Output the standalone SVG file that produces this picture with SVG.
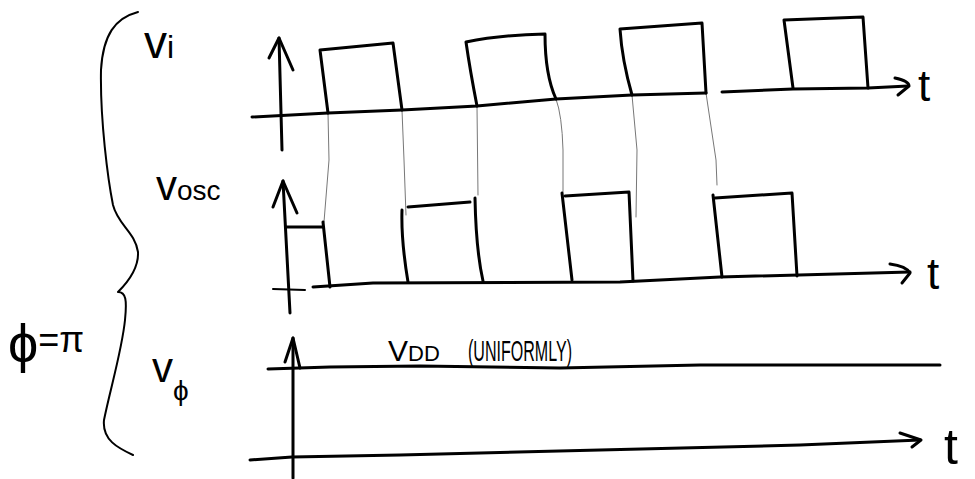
<svg xmlns="http://www.w3.org/2000/svg" width="975" height="479" viewBox="0 0 975 479">
<style>
.ink{fill:none;stroke:#000;stroke-width:3;stroke-linecap:round;stroke-linejoin:round}
.thin{fill:none;stroke:#000;stroke-width:2;stroke-linecap:round;stroke-linejoin:round}
.guide{fill:none;stroke:#777;stroke-width:1;stroke-linecap:round}
.lbl{font-family:"Liberation Sans","DejaVu Sans",sans-serif;fill:#000}
</style>
<rect width="975" height="479" fill="#fff"/>
<g id="brace">
<path class="thin" d="M138,12 C115,18 103,35 101,70 C100,120 108,180 113,205 C118,225 135,232 138,252 C139,270 125,285 118,292 C126,292 127,300 125,320 C122,350 110,390 104,420 C102,440 118,448 133,455"/>
</g>
<g id="labels">
<text class="lbl" x="144" y="58" font-size="46">v<tspan font-size="32">i</tspan></text>
<text class="lbl" x="156" y="200" font-size="42">v<tspan font-size="28">osc</tspan></text>
<text class="lbl" x="152" y="382" font-size="42">v<tspan font-size="28" dy="18">ϕ</tspan></text>
<text class="lbl" x="8" y="362" font-size="54">ϕ<tspan font-size="36" dy="-10">=π</tspan></text>
<text class="lbl" x="918" y="101" font-size="44">t</text>
<text class="lbl" x="927" y="289" font-size="44">t</text>
<text class="lbl" x="944" y="464" font-size="50">t</text>
<text class="lbl" x="388" y="361" font-size="30">V<tspan font-size="22">DD</tspan></text>
<text class="lbl" x="468" y="361" font-size="30" textLength="104" lengthAdjust="spacingAndGlyphs">(UNIFORMLY)</text>
</g>
<g id="guides">
<path class="guide" d="M328,113 L329,160 L324,222"/>
<path class="guide" d="M402,110 L404,160 L406,215"/>
<path class="guide" d="M477,106 L478,195"/>
<path class="guide" d="M556,99 Q562,115 563,150 L563,192"/>
<path class="guide" d="M632,95 L637,150 L636,217"/>
<path class="guide" d="M706,93 L716,160 L717,185"/>
</g>
<g id="plot-vi">
<path class="ink" d="M282,150 L279,38"/>
<path class="ink" d="M269,58 L279,38 L293,70"/>
<path class="ink" d="M252,117 L328,113 L402,110 L477,106 L556,99 L632,95 L706,93"/>
<path class="ink" d="M722,92 L793,89 L868,88 L908,86"/>
<path class="ink" d="M895,78 Q909,81 909,86 L898,95"/>
<path class="ink" d="M328,113 L320,50 L393,43 L402,110"/>
<path class="ink" d="M477,106 Q470,70 466,42 Q500,35 545,34 Q545,75 556,99"/>
<path class="ink" d="M632,95 Q622,60 620,29 L702,23 L706,93"/>
<path class="ink" d="M793,88 L784,20 L863,17 L868,88"/>
</g>
<g id="plot-vosc">
<path class="ink" d="M290,313 L283,181"/>
<path class="ink" d="M273,207 L283,181 L297,213"/>
<path class="thin" d="M273,289 L305,290"/>
<path class="ink" d="M313,287 L373,283 L620,282 L720,277 L910,272"/>
<path class="ink" d="M890,264 Q906,266 910,273 L902,283"/>
<path class="ink" d="M286,227 L323,227"/>
<path class="ink" d="M323,222 L330,287"/>
<path class="ink" d="M402,210 Q401,240 408,282"/>
<path class="ink" d="M408,207 L470,202"/>
<path class="ink" d="M475,198 Q476,250 483,281"/>
<path class="ink" d="M562,193 L572,280"/>
<path class="ink" d="M565,196 L629,192 L633,281"/>
<path class="ink" d="M713,195 L722,277"/>
<path class="ink" d="M715,198 L792,193 L797,276"/>
</g>
<g id="plot-vphi">
<path class="ink" d="M293,478 L293,338"/>
<path class="ink" d="M285,362 L293,338 L300,368"/>
<path class="ink" d="M268,369 L330,367 L420,366 L560,368 L700,365 L940,365"/>
<path class="ink" d="M250,460 L292,457 L400,455 L600,450 L800,445 L920,440"/>
<path class="ink" d="M900,433 L921,440 L912,447"/>
</g>
</svg>
